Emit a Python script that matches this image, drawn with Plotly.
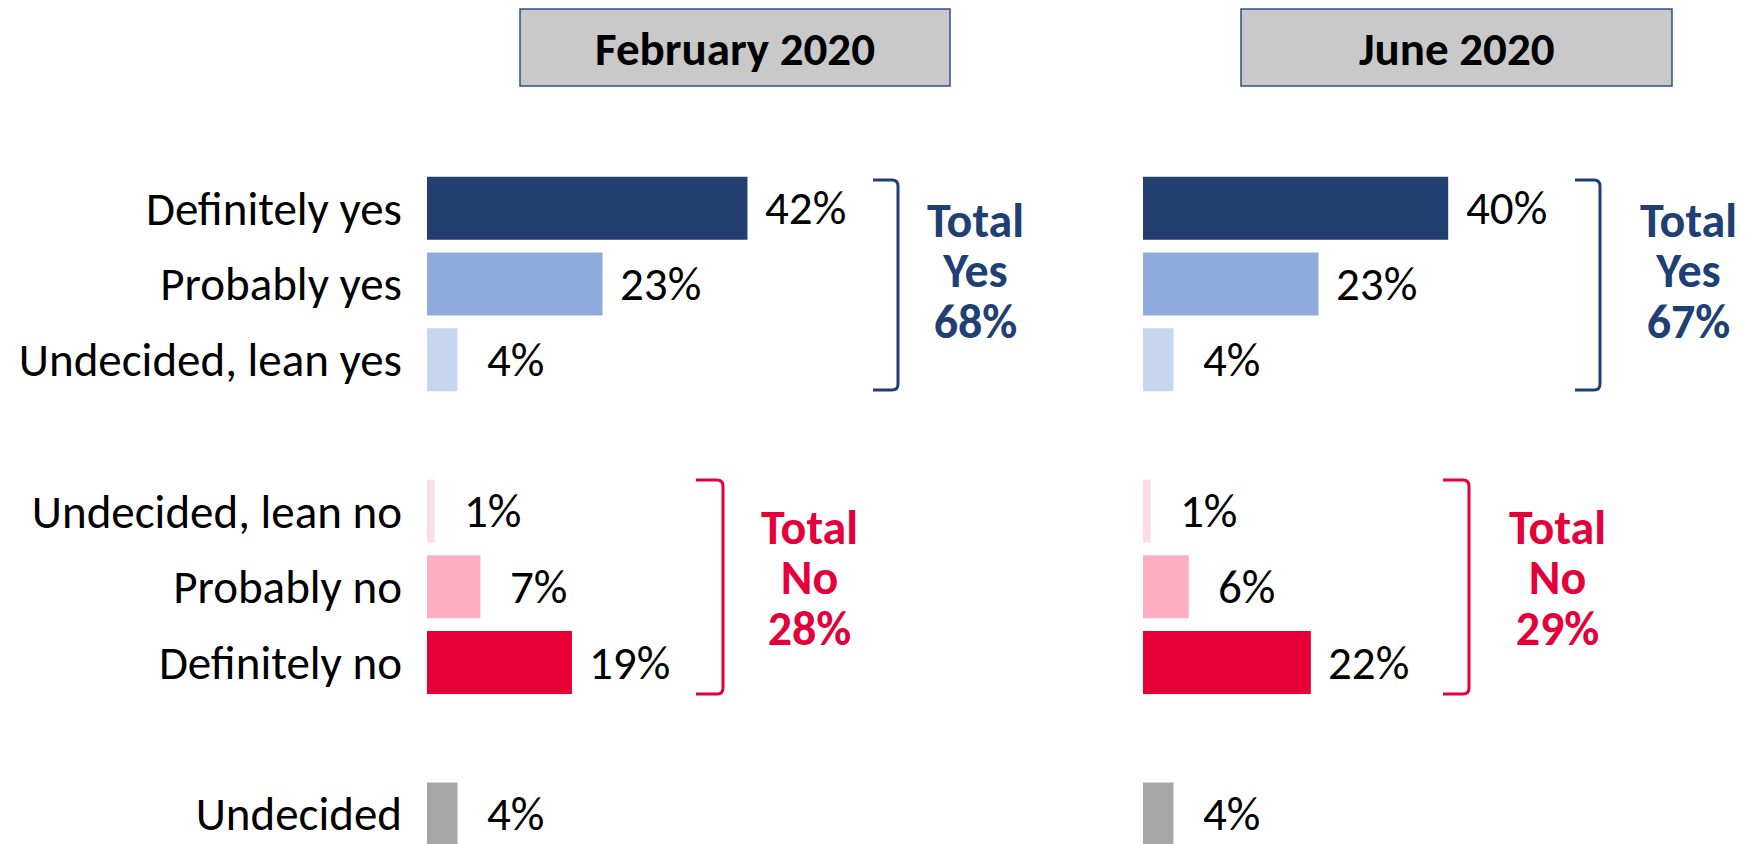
import plotly.graph_objects as go

# ---------------- data ----------------
categories = ["Definitely yes", "Probably yes", "Undecided, lean yes",
              "Undecided, lean no", "Probably no", "Definitely no", "Undecided"]
feb_values = [42, 23, 4, 1, 7, 19, 4]
jun_values = [40, 23, 4, 1, 6, 22, 4]
bar_colors = ["#22406F", "#8FAADC", "#C5D6EE", "#FDDDE5", "#FDAFC1", "#E60036", "#A6A6A6"]
panel_titles = ["February 2020", "June 2020"]
total_yes = [68, 67]
total_no = [28, 29]

# category order on the axis, with blank spacer rows between groups
row_order = ["Definitely yes", "Probably yes", "Undecided, lean yes", " ",
             "Undecided, lean no", "Probably no", "Definitely no", "  ", "Undecided"]

# the page body has an 8px margin; work in window pixels and convert
OFF = 8
WIN_W, WIN_H = 1755, 844
W, H = WIN_W - OFF, WIN_H - OFF
FONT = "Carlito, Calibri, 'Liberation Sans Narrow', 'Roboto Condensed', Lato, sans-serif"
BLUE = "#203F73"
RED = "#E4003A"


def px(x, y):
    return (x - OFF) / W, 1 - (y - OFF) / H


fig = go.Figure()
for vals, xa in [(feb_values, "x"), (jun_values, "x2")]:
    fig.add_trace(go.Bar(
        x=vals, y=categories, orientation="h",
        marker=dict(color=bar_colors, line=dict(width=0)),
        xaxis=xa, yaxis="y", showlegend=False, hoverinfo="x+y",
    ))

# value labels
annotations = []
for vals, xa in [(feb_values, "x"), (jun_values, "x2")]:
    for c, v in zip(categories, vals):
        annotations.append(dict(
            x=v, y=c, xref=xa, yref="y", text=f"{v}%", showarrow=False,
            xanchor="center", yanchor="middle", xshift=58, yshift=0,
            font=dict(family=FONT, size=47, color="black"),
        ))

# header boxes
shapes = []
header_boxes = [(520, 950), (1241, 1672)]
for (x0, x1), title in zip(header_boxes, panel_titles):
    px0, py0 = px(x0, 9)
    px1, py1 = px(x1, 86)
    shapes.append(dict(type="rect", xref="paper", yref="paper",
                       x0=px0, x1=px1, y0=py1, y1=py0,
                       fillcolor="#C9C9C9", line=dict(color="#2F4F8A", width=1.5)))
    cx, cy = px((x0 + x1) / 2, 49)
    annotations.append(dict(x=cx, y=cy, xref="paper", yref="paper", text=f"<b>{title}</b>",
                            showarrow=False, xanchor="center", yanchor="middle",
                            font=dict(family=FONT, size=47, color="black")))


def bracket(xv, xt, ytop, ybot, color):
    r = 6
    a = lambda x, y: "%.6f,%.6f" % px(x, y)
    path = (f"M {a(xt, ytop)} L {a(xv - r, ytop)} Q {a(xv, ytop)} {a(xv, ytop + r)} "
            f"L {a(xv, ybot - r)} Q {a(xv, ybot)} {a(xv - r, ybot)} L {a(xt, ybot)}")
    return dict(type="path", xref="paper", yref="paper", path=path,
                line=dict(color=color, width=3))


# brackets: (vertical x, tick start x)
yes_brackets = [(898, 873), (1600, 1575)]
no_brackets = [(723, 696), (1469, 1443)]
for xv, xt in yes_brackets:
    shapes.append(bracket(xv, xt, 180, 390, BLUE))
for xv, xt in no_brackets:
    shapes.append(bracket(xv, xt, 480, 694, RED))


def stacked(lines):
    # base font sets the line pitch (1.3 em); spans enlarge the glyphs
    return "<br>".join(f'<span style="font-size:48px"><b>{t}</b></span>' for t in lines)


# total labels
yes_centers = [975, 1688]
no_centers = [809, 1557]
for cx, val in zip(yes_centers, total_yes):
    x, y = px(cx, 271)
    annotations.append(dict(x=x, y=y, xref="paper", yref="paper",
                            text=stacked(["Total", "Yes", f"{val}%"]),
                            showarrow=False, xanchor="center", yanchor="middle",
                            font=dict(family=FONT, size=38.8, color=BLUE)))
for cx, val in zip(no_centers, total_no):
    x, y = px(cx, 578)
    annotations.append(dict(x=x, y=y, xref="paper", yref="paper",
                            text=stacked(["Total", "No", f"{val}%"]),
                            showarrow=False, xanchor="center", yanchor="middle",
                            font=dict(family=FONT, size=38.8, color=RED)))

PPP = 7.63  # pixels per percentage point
feb_left, jun_left, feb_right = 427, 1143, 1100
ROW = 75.7          # pixels per category row
ROW0_Y = 208.3      # window y of first row centre
fig.update_layout(
    width=W, height=H,
    margin=dict(l=0, r=0, t=0, b=0),
    paper_bgcolor="white", plot_bgcolor="white",
    bargap=0.168,
    xaxis=dict(domain=[(feb_left - OFF) / W, (feb_right - OFF) / W],
               range=[0, (feb_right - feb_left) / PPP],
               showgrid=False, zeroline=False, showline=False, showticklabels=False),
    xaxis2=dict(domain=[(jun_left - OFF) / W, 1.0], range=[0, (WIN_W - jun_left) / PPP],
                showgrid=False, zeroline=False, showline=False, showticklabels=False,
                anchor="y"),
    yaxis=dict(type="category", categoryorder="array", categoryarray=row_order,
               range=[(WIN_H - ROW0_Y) / ROW, -(ROW0_Y - OFF) / ROW], anchor="x",
               showgrid=False, zeroline=False, showline=False,
               ticks="", ticklabelstandoff=24,
               tickfont=dict(family=FONT, size=47, color="black")),
    shapes=shapes,
    annotations=annotations,
)

fig.write_html("out.html")
